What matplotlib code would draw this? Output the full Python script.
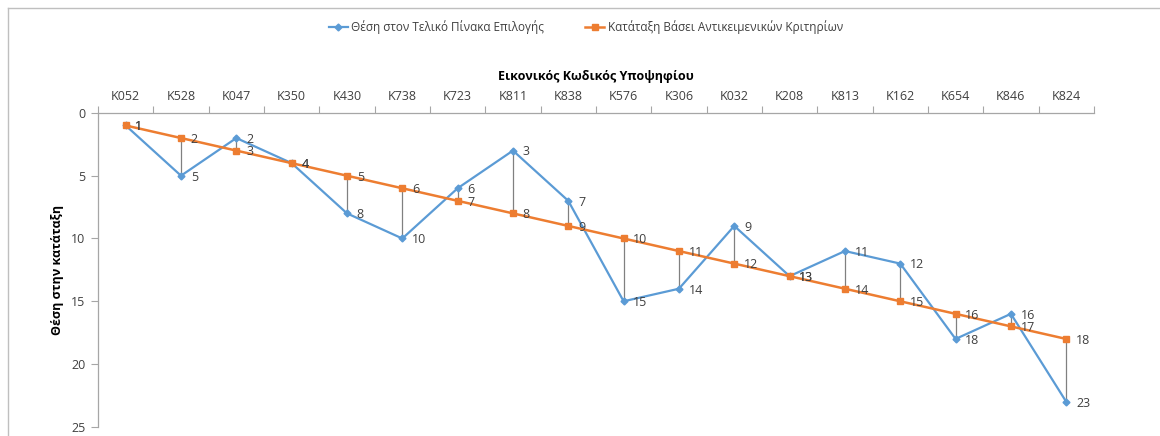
import matplotlib
matplotlib.use("Agg")
import matplotlib.pyplot as plt
from matplotlib.lines import Line2D
from matplotlib import font_manager

# fonts: narrow sans if present, else Open Sans
names = {f.name for f in font_manager.fontManager.ttflist}
fam = ["Liberation Sans Narrow"] if "Liberation Sans Narrow" in names else []
plt.rcParams["font.family"] = fam + ["Open Sans", "DejaVu Sans"]

# data
codes = ["K052", "K528", "K047", "K350", "K430", "K738", "K723", "K811", "K838",
         "K576", "K306", "K032", "K208", "K813", "K162", "K654", "K846", "K824"]
final_pos = [1, 5, 2, 4, 8, 10, 6, 3, 7, 15, 14, 9, 13, 11, 12, 18, 16, 23]
objective_rank = [1, 2, 3, 4, 5, 6, 7, 8, 9, 10, 11, 12, 13, 14, 15, 16, 17, 18]
name_final = "Θέση στον Τελικό Πίνακα Επιλογής"
name_obj = "Κατάταξη Βάσει Αντικειμενικών Κριτηρίων"

blue = "#5B9BD5"
orange = "#ED7D31"
grey = "#A6A6A6"
txt = "#404040"

fig = plt.figure(figsize=(11.6, 4.36), dpi=100)
ax = fig.add_axes([0.0845, 0.021, 0.8585, 0.72])

x = list(range(len(codes)))

# high-low lines between the two series
ax.vlines(x, final_pos, objective_rank, color="#808080", lw=0.9, zorder=1)

l1, = ax.plot(x, final_pos, color=blue, lw=1.6, marker="D", ms=3.5,
              label=name_final, zorder=2)
l2, = ax.plot(x, objective_rank, color=orange, lw=1.8, marker="s", ms=5,
              label=name_obj, zorder=3)

for xi, v in zip(x, final_pos):
    ax.annotate(str(v), (xi, v), xytext=(7, -1), textcoords="offset points",
                va="center", ha="left", fontsize=9, color=txt)
for xi, v in zip(x, objective_rank):
    ax.annotate(str(v), (xi, v), xytext=(7, -1), textcoords="offset points",
                va="center", ha="left", fontsize=9, color=txt)

ax.set_xlim(-0.5, len(codes) - 0.5)
ax.set_ylim(25, 0)
ax.set_yticks([0, 5, 10, 15, 20, 25])

ax.xaxis.tick_top()
ax.xaxis.set_label_position("top")
ax.set_xticks(x)
ax.set_xticklabels(codes)
ax.set_xticks([i - 0.5 for i in range(len(codes) + 1)], minor=True)
ax.tick_params(axis="x", which="major", length=0, pad=7, labelsize=9, labelcolor=txt)
ax.tick_params(axis="x", which="minor", length=5, color=grey, width=0.8)
ax.tick_params(axis="y", length=5, color=grey, width=0.8, labelsize=9,
               labelcolor=txt, pad=4)

for s in ["right", "bottom"]:
    ax.spines[s].set_visible(False)
for s in ["left", "top"]:
    ax.spines[s].set_color(grey)
    ax.spines[s].set_linewidth(0.9)

ax.set_xlabel("Εικονικός Κωδικός Υποψηφίου", fontsize=9, fontweight="bold",
              labelpad=7)
ax.set_ylabel("Θέση στην κατάταξη", fontsize=9, fontweight="bold", labelpad=5)

fig.legend(handles=[l1, l2], loc="center", bbox_to_anchor=(0.505, 0.938),
           ncol=2, frameon=False, fontsize=8.5, handlelength=1.6,
           handletextpad=0.3, columnspacing=3.5, labelcolor=txt)

# chart area border
fig.add_artist(Line2D([8 / 1160, 1], [1 - 8 / 436, 1 - 8 / 436], color="#BFBFBF", lw=1))
fig.add_artist(Line2D([8 / 1160, 8 / 1160], [0, 1 - 8 / 436], color="#BFBFBF", lw=1))

fig.savefig("out.png", dpi=100)
